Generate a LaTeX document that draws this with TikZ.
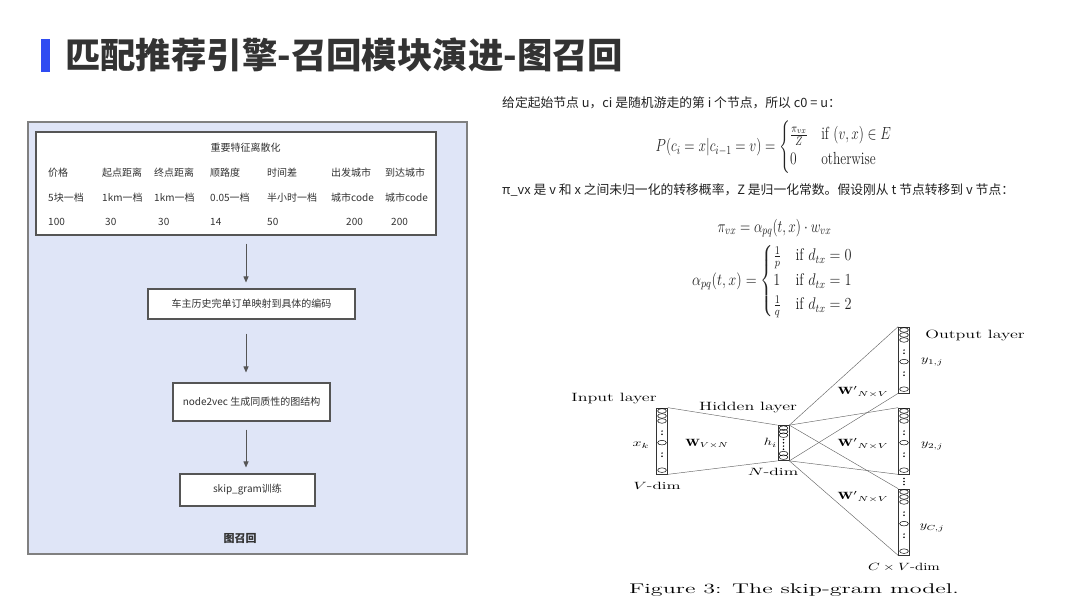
\documentclass[tikz,border=0pt]{standalone}
\usepackage{fix-cm}
\usepackage{amsmath,amssymb}
\usepackage{fontspec}
\usetikzlibrary{arrows.meta,calc,positioning}
\newfontfamily\cjk{Noto Sans CJK SC}
\newcommand\figfont{\rmfamily\addfontfeatures{LetterSpace=12}}
\newcommand\capfont{\rmfamily\addfontfeatures{LetterSpace=18}}
\definecolor{panelfill}{HTML}{DFE5F7}
\definecolor{panelline}{HTML}{808080}
\definecolor{boxline}{HTML}{555555}
\definecolor{titlebar}{HTML}{2F4CF2}
\definecolor{inkgray}{HTML}{333333}
\definecolor{inkdark}{HTML}{222222}
\newcommand\wide[2][1.35]{\scalebox{#1}[1]{#2}}
\newcommand\tall[2][1.3]{\scalebox{1}[#1]{#2}}
\newcommand\layercells[3]{%
  \foreach \d in {#2} \draw[line width=0.5pt] ([yshift=-\d]#1.north) ellipse (4.4 and 2.3);
  \foreach \d in {#3} {\fill ([yshift=-\d-1.6]#1.north) circle (0.8);
    \fill ([yshift=-\d+1.6]#1.north) circle (0.8);}}

\begin{document}
\begin{tikzpicture}[x=1pt,y=-1pt,font=\cjk,
  panel/.style={fill=panelfill,draw=panelline,line width=1.5pt},
  box/.style={draw=boxline,line width=1.1pt,fill=white,inner sep=0pt,font=\cjk\fontsize{10}{12}\selectfont,text=inkgray},
  flow/.style={draw=boxline,line width=0.9pt,-{Triangle[length=6pt,width=5pt]},shorten <=8pt,shorten >=6pt},
  cell/.style={anchor=west,inner sep=0pt,font=\cjk\fontsize{10}{12}\selectfont,text=inkgray},
  note/.style={anchor=west,inner sep=0pt,font=\cjk\fontsize{12.8}{15}\selectfont,text=inkdark},
  eq/.style={inner sep=0pt,font=\fontsize{13.5}{16}\selectfont,text=inkdark},
  layer/.style={draw=black!80,line width=0.7pt,minimum width=11pt,inner sep=0pt},
  wire/.style={draw=black!60,line width=0.45pt},
  lbl/.style={inner sep=0pt,font=\figfont\fontsize{10.5}{12}\selectfont},
  head/.style={inner sep=0pt,font=\figfont\fontsize{12}{14}\selectfont}]
\useasboundingbox (0,0) rectangle (1080,608);

% title
\fill[titlebar] (41,39) rectangle (50,72);
\node[anchor=west,inner sep=0pt,font=\cjk\bfseries\fontsize{35.4}{40}\selectfont,text=inkgray] (title) at (65,55) {匹配推荐引擎-召回模块演进-图召回};

% left panel: pipeline
\draw[panel] (28,122) rectangle (467,554);
\node[box,minimum width=400,minimum height=103] (tbl) at (236,183.5) {};
\node[cell,anchor=center] (feat) at (245.5,148) {重要特征离散化};
\foreach \x/\a/\b in {48/价格/5块一档,102/起点距离/1km一档,154/终点距离/1km一档,210/顺路度/0.05一档,267/时间差/半小时一档,331/出发城市/城市code,385/到达城市/城市code} {
  \node[cell] (h\x) at (\x,173) {\a};
  \node[cell] (u\x) at (\x,198) {\b};
}
\foreach \x/\c in {48/100,105/30,158/30,210/14,267/50,346/200,391/200}
  \node[cell] (n\x) at (\x,222) {\c};

\node[box,minimum width=207,minimum height=30] (enc) at (251.5,304) {车主历史完单订单映射到具体的编码};
\node[box,minimum width=157,minimum height=38] (walk) at (251.5,402) {node2vec 生成同质性的图结构};
\node[box,minimum width=135,minimum height=32] (train) at (247.5,490) {skip\_gram训练};
\coordinate (ax) at (246,0);
\draw[flow] (tbl.south -| ax) -- (enc.north -| ax);
\draw[flow,shorten <=14pt,shorten >=10pt] (enc.south -| ax) -- (walk.north -| ax);
\draw[flow] (walk.south -| ax) -- (train.north -| ax);
\node[inner sep=0pt,font=\cjk\bfseries\fontsize{11}{13}\selectfont,text=inkgray] (cap) at (240,538) {图召回};

% right: transition probabilities
\node[note] (start) at (502,103) {给定起始节点 u，ci 是随机游走的第 i 个节点，所以 c0 = u：};
\node[eq] (pcond) at (774,147) {\tall{$P(c_i = x|c_{i-1} = v) = \begin{cases} \frac{\pi_{vx}}{Z} & \textrm{if } (v,x)\in E\\ 0 & \textrm{otherwise}\end{cases}$}};
\node[note] (unnorm) at (502,190) {π\_vx 是 v 和 x 之间未归一化的转移概率，Z 是归一化常数。假设刚从 t 节点转移到 v 节点：};
\node[eq] (piw) at (774.5,228) {\tall{$\pi_{vx} = \alpha_{pq}(t,x)\cdot w_{vx}$}};
\node[eq] (alpha) at (772.5,281) {\tall[1.25]{\wide[1.06]{$\alpha_{pq}(t,x) = \begin{cases} \frac{1}{p} & \textrm{if } d_{tx}=0\\ 1 & \textrm{if } d_{tx}=1\\ \frac{1}{q} & \textrm{if } d_{tx}=2\end{cases}$}}};

% skip-gram model
\node[layer,minimum height=66] (inl) at (662,441) {};
\node[layer,minimum height=35] (hid) at (783.5,443) {};
\node[layer,minimum height=66] (out1) at (904,360) {};
\node[layer,minimum height=66] (out2) at (904,441) {};
\node[layer,minimum height=66] (out3) at (904,522) {};
\draw[wire] (inl.north east) -- (hid.north west);
\draw[wire] (inl.south east) -- (hid.south west);
\foreach \o in {out1,out2,out3} {
  \draw[wire] (hid.north east) -- (\o.north west);
  \draw[wire] (hid.south east) -- (\o.south west);
}
\layercells{inl}{3.3,8.3,13.3,35,62.5}{25,47}
\layercells{hid}{3,6.5,10,28.5,32}{16,22.5}
\foreach \o in {out1,out2,out3} {\layercells{\o}{3.3,8.3,13.3,35,62.5}{25,47}}
\coordinate (gap) at ($(out2.south)!0.5!(out3.north)$);
\foreach \d in {-3,0,3} \fill ($(gap)+(0,\d)$) circle (0.9);

\node[head] (inlbl) at (614,399) {\wide[1.5]{Input layer}};
\node[head] (hidlbl) at (748,408) {\wide[1.5]{Hidden layer}};
\node[head] (outlbl) at (975,335) {\wide[1.5]{Output layer}};
\node[lbl] (xk) at (641,445) {\wide[1.5]{$x_k$}};
\node[lbl] (wvn) at (707,444) {\wide{$\mathbf{W}_{V\times N}$}};
\node[lbl,anchor=east] (hi) at (777,443) {\wide{$h_i$}};
\node[lbl] (vdim) at (657,486) {\wide[1.6]{$V$-dim}};
\node[lbl] (ndim) at (773,472) {\wide[1.65]{$N$-dim}};
\node[lbl] (w1) at (863,392) {\wide[1.45]{$\mathbf{W'}_{N\times V}$}};
\node[lbl] (w2) at (863,444) {\wide[1.45]{$\mathbf{W'}_{N\times V}$}};
\node[lbl] (w3) at (863,497) {\wide[1.45]{$\mathbf{W'}_{N\times V}$}};
\node[lbl] (y1) at (932,362) {\wide{$y_{1,j}$}};
\node[lbl] (y2) at (932,446) {\wide{$y_{2,j}$}};
\node[lbl] (yc) at (932,528) {\wide{$y_{C,j}$}};
\node[lbl] (cvdim) at (904,567) {\wide[1.42]{$C\times V$-dim}};
\node[inner sep=0pt,font=\capfont\fontsize{14}{16}\selectfont] (figcap) at (794,590) {\wide[1.72]{Figure 3: The skip-gram model.}};
\end{tikzpicture}
\end{document}
